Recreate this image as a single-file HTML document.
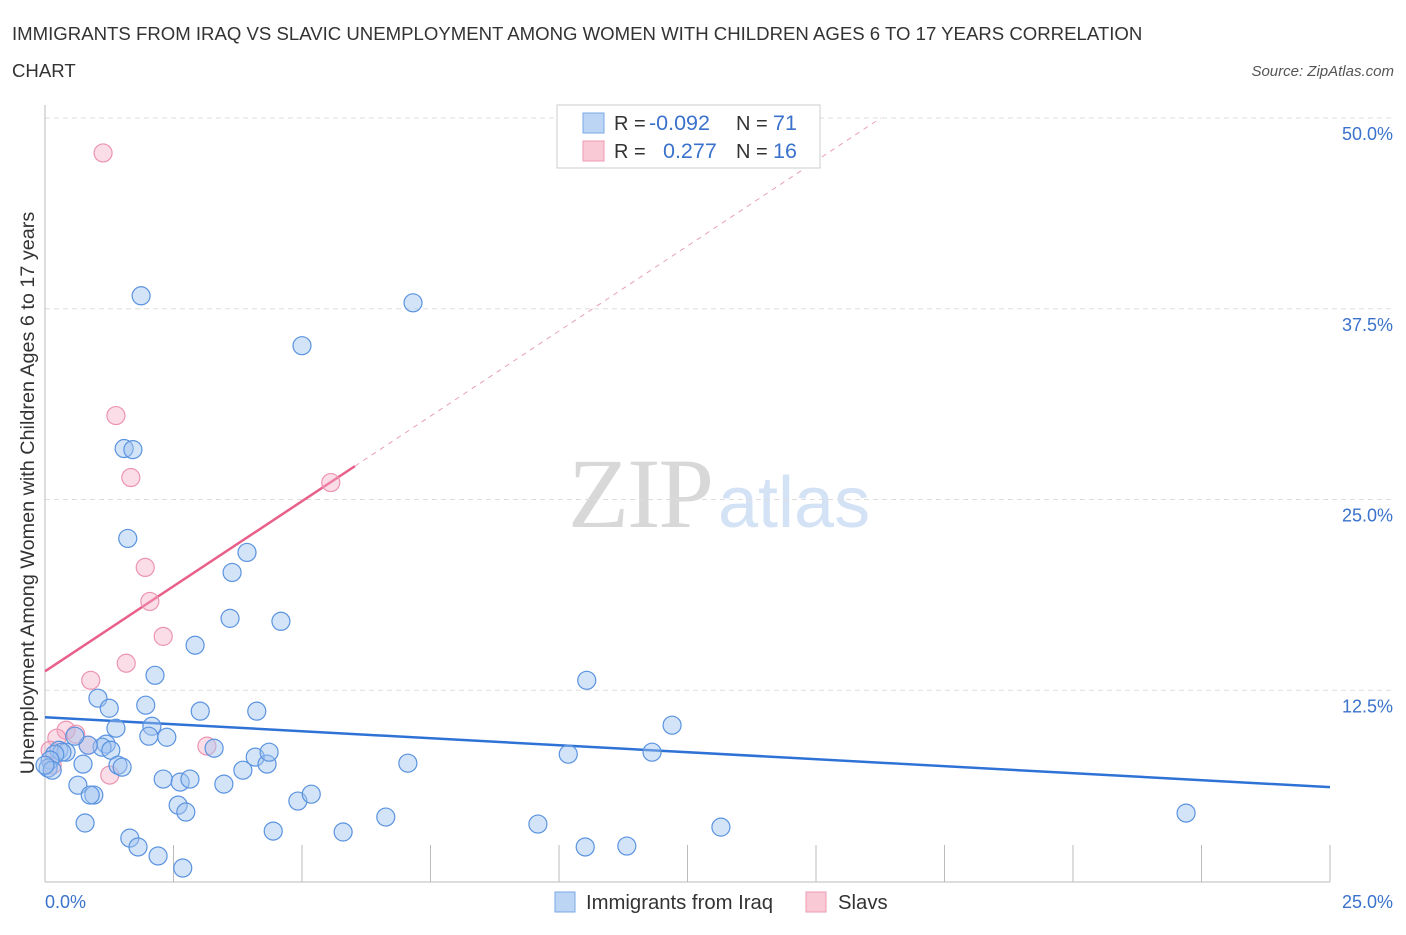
<!DOCTYPE html>
<html><head><meta charset="utf-8"><style>
body{margin:0;background:#fff;font-family:"Liberation Sans",sans-serif;}
svg text{font-family:"Liberation Sans",sans-serif;}
</style></head><body>
<svg id="chart" width="1406" height="930" viewBox="0 0 1406 930" xmlns="http://www.w3.org/2000/svg">
<text x="12" y="40" font-size="18.6" fill="#333">IMMIGRANTS FROM IRAQ VS SLAVIC UNEMPLOYMENT AMONG WOMEN WITH CHILDREN AGES 6 TO 17 YEARS CORRELATION</text>
<text x="12" y="77" font-size="18.6" fill="#333">CHART</text>
<text x="1394" y="76" font-size="15" fill="#555" font-style="italic" text-anchor="end">Source: ZipAtlas.com</text>
<g>
<text x="712" y="527" font-size="100" fill="#d8d8d8" text-anchor="end" style="font-family:'Liberation Serif',serif" letter-spacing="-2">ZIP</text>
<text x="718" y="527" font-size="72" fill="#d4e2f6">atlas</text>
</g>
<g id="grid"></g>
<g id="axes"></g>
<g id="lines"></g>
<g id="points"></g>
<text transform="translate(34,493) rotate(-90)" font-size="19.8" fill="#333" text-anchor="middle">Unemployment Among Women with Children Ages 6 to 17 years</text>
<g>
<rect x="557" y="105" width="263" height="63" fill="#fff" stroke="#ccc"/>
<rect x="583" y="113" width="21" height="20" fill="#bcd5f5" stroke="#7aa7e6"/>
<rect x="583" y="141" width="21" height="20" fill="#f9c9d6" stroke="#ee9ab2"/>
<text x="614" y="130" font-size="20" fill="#333">R = </text><text x="649" y="130" font-size="21.5" fill="#3a72cc">-0.092</text>
<text x="736" y="130" font-size="20" fill="#333">N = </text><text x="773" y="130" font-size="21.5" fill="#3a72cc">71</text>
<text x="614" y="158" font-size="20" fill="#333">R = </text><text x="663" y="158" font-size="21.5" fill="#3a72cc">0.277</text>
<text x="736" y="158" font-size="20" fill="#333">N = </text><text x="773" y="158" font-size="21.5" fill="#3a72cc">16</text>
</g>
<g>
<rect x="555" y="892" width="20" height="20" fill="#bcd5f5" stroke="#7aa7e6"/>
<text x="586" y="909" font-size="20.3" fill="#333">Immigrants from Iraq</text>
<rect x="806" y="892" width="20" height="20" fill="#f9c9d6" stroke="#ee9ab2"/>
<text x="838" y="909" font-size="20.3" fill="#333">Slavs</text>
</g>
</svg>
<script>
const yTicks=[12.5,25,37.5,50];
const yTickLabels=["12.5%","25.0%","37.5%","50.0%"];
const xTickLabels=["0.0%","25.0%"];
const iraqX=[1.87,7.16,5.00,1.54,1.71,1.61,3.93,3.64,3.60,4.59,2.92,2.14,10.54,1.03,1.25,1.96,3.02,4.12,12.20,1.38,2.08,2.02,2.37,1.19,1.11,0.84,0.58,1.28,0.27,0.41,0.33,0.19,0.10,0.06,0.74,1.42,1.50,2.30,2.63,2.82,3.29,3.48,3.85,4.09,4.32,4.36,7.06,10.18,11.81,0.64,0.95,0.88,2.59,2.74,4.92,5.18,6.63,0.78,1.65,1.81,2.20,2.68,4.44,5.80,9.59,10.51,11.32,13.15,22.20,0.14,0.0];
const iraqY=[38.35,37.89,35.08,28.34,28.27,22.45,21.53,20.22,17.21,17.02,15.45,13.48,13.15,11.98,11.32,11.52,11.13,11.13,10.21,10.01,10.14,9.49,9.42,8.97,8.77,8.90,9.49,8.57,8.57,8.44,8.44,8.31,7.92,7.40,7.66,7.59,7.46,6.68,6.48,6.68,8.70,6.35,7.26,8.12,7.66,8.44,7.72,8.31,8.44,6.28,5.63,5.63,4.97,4.52,5.24,5.69,4.19,3.80,2.81,2.23,1.64,0.85,3.27,3.21,3.73,2.23,2.29,3.53,4.45,7.26,7.59];
const slavX=[1.13,1.38,1.67,5.56,1.95,2.04,2.30,1.58,0.89,0.41,0.60,0.23,0.84,3.15,1.26,0.14,0.10];
const slavY=[47.71,30.50,26.44,26.11,20.55,18.32,16.03,14.27,13.15,9.88,9.62,9.36,8.90,8.84,6.94,7.59,8.57];
const iraqTrend=[10.73,6.15];
const slavTrend=[13.74,2.23];

const NS="http://www.w3.org/2000/svg";
const X0=45,X1=1330,Y0=881,Y50=118;
const xs=v=>X0+(X1-X0)*v/25;
const ys=v=>Y0-(Y0-Y50)*v/50;
function mk(tag,attrs,parent){const e=document.createElementNS(NS,tag);for(const k in attrs)e.setAttribute(k,attrs[k]);document.getElementById(parent).appendChild(e);return e;}

yTicks.forEach((t,i)=>{
  const g=mk('line',{x1:X0,x2:1395,y1:ys(t),y2:ys(t),stroke:'#ddd','stroke-dasharray':'5,4'},'grid');
  
  
  const l=mk('text',{x:1393,y:ys(t)+22,'font-size':18,fill:'#3a72cc','text-anchor':'end'},'grid');
  l.textContent=yTickLabels[i];
  
  
});
const ax=mk('line',{x1:X0,x2:X0,y1:105,y2:882,stroke:'#bbb'},'axes');


const bx=mk('line',{x1:X0,x2:X1,y1:882,y2:882,stroke:'#bbb'},'axes');


for(let i=1;i<=10;i++){
  const t=mk('line',{x1:xs(i*2.5),x2:xs(i*2.5),y1:845,y2:882,stroke:'#bbb'},'axes');
  
  
}
const xl0=mk('text',{x:45,y:908,'font-size':18,fill:'#3a72cc'},'axes');
xl0.textContent=xTickLabels[0];


const xl1=mk('text',{x:1393,y:908,'font-size':18,fill:'#3a72cc','text-anchor':'end'},'axes');
xl1.textContent=xTickLabels[1];



const il=mk('line',{x1:xs(0),y1:ys(iraqTrend[0]),x2:xs(25),y2:ys(iraqTrend[1]),stroke:'#2f72d6','stroke-width':2.5},'lines');


const sEnd=6.03,sDash=(50-slavTrend[0])/slavTrend[1];
const sl=mk('line',{x1:xs(0),y1:ys(slavTrend[0]),x2:xs(sEnd),y2:ys(slavTrend[0]+slavTrend[1]*sEnd),stroke:'#e8608a','stroke-width':2.5},'lines');


const sd=mk('line',{x1:xs(sEnd),y1:ys(slavTrend[0]+slavTrend[1]*sEnd),x2:xs(sDash),y2:ys(50),stroke:'#e8a0b6','stroke-width':1,'stroke-dasharray':'5,5'},'lines');



slavX.forEach((v,i)=>{
  const c=mk('circle',{cx:xs(v),cy:ys(slavY[i]),r:9,fill:'rgba(245,170,195,0.4)',stroke:'#ec94b0','stroke-width':1.2},'points');
  
  
});
iraqX.forEach((v,i)=>{
  const c=mk('circle',{cx:xs(v),cy:ys(iraqY[i]),r:9,fill:'rgba(160,195,240,0.45)',stroke:'#5a93e0','stroke-width':1.2},'points');
  
  
});
</script>
</body></html>
